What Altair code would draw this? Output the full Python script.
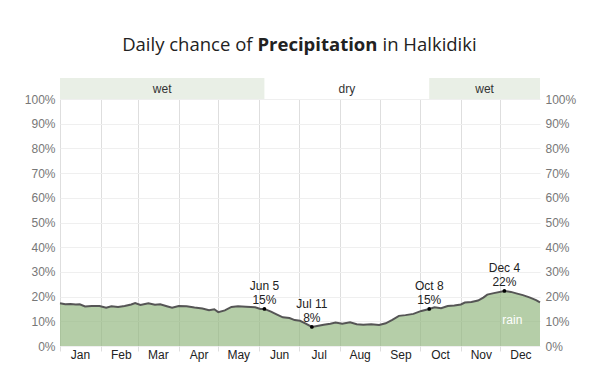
import altair as alt
import pandas as pd

# Daily chance of precipitation (%)
dates = [
    "2023-01-01", "2023-01-05", "2023-01-09", "2023-01-13", "2023-01-16", "2023-01-20",
    "2023-01-25", "2023-01-31", "2023-02-05", "2023-02-09", "2023-02-14", "2023-02-19",
    "2023-02-24", "2023-02-27", "2023-03-03", "2023-03-09", "2023-03-14", "2023-03-18",
    "2023-03-23", "2023-03-27", "2023-04-01", "2023-04-07", "2023-04-13", "2023-04-19",
    "2023-04-24", "2023-04-28", "2023-05-01", "2023-05-06", "2023-05-11", "2023-05-16",
    "2023-05-22", "2023-05-29", "2023-06-02", "2023-06-05", "2023-06-10", "2023-06-15",
    "2023-06-19", "2023-06-24", "2023-06-28", "2023-07-02", "2023-07-06", "2023-07-11",
    "2023-07-15", "2023-07-20", "2023-07-25", "2023-07-29", "2023-08-03", "2023-08-09",
    "2023-08-14", "2023-08-19", "2023-08-25", "2023-08-31", "2023-09-05", "2023-09-10",
    "2023-09-15", "2023-09-20", "2023-09-26", "2023-10-02", "2023-10-08", "2023-10-12",
    "2023-10-17", "2023-10-22", "2023-10-27", "2023-11-01", "2023-11-04", "2023-11-09",
    "2023-11-14", "2023-11-18", "2023-11-21", "2023-11-26", "2023-12-04", "2023-12-09",
    "2023-12-13", "2023-12-18", "2023-12-23", "2023-12-28", "2023-12-31",
]
values = [
    17.3, 16.9, 17.0, 16.8, 16.9, 16.0,
    16.2, 16.2, 15.5, 16.1, 15.8, 16.2,
    16.8, 17.4, 16.6, 17.3, 16.7, 16.9,
    16.1, 15.5, 16.2, 16.1, 15.6, 15.2,
    14.5, 14.9, 13.7, 14.4, 15.8, 16.1,
    15.9, 15.7, 15.0, 15.0, 13.9, 12.6,
    11.6, 11.3, 10.5, 10.2, 9.2, 7.7,
    8.1, 8.6, 9.0, 9.5, 9.0, 9.6,
    8.8, 8.6, 8.8, 8.5, 9.2, 10.6,
    12.2, 12.5, 13.0, 14.2, 15.0, 15.7,
    15.3, 16.2, 16.4, 16.8, 17.6, 17.8,
    18.4, 19.6, 20.8, 21.4, 22.3, 21.9,
    21.3, 20.6, 19.7, 18.6, 17.7,
]

ann_dates = ["2023-06-05", "2023-07-11", "2023-10-08", "2023-12-04"]
ann_values = [15.0, 7.7, 15.0, 22.3]
ann_labels = ["Jun 5\n15%", "Jul 11\n8%", "Oct 8\n15%", "Dec 4\n22%"]

band_start = ["2023-01-01", "2023-06-05", "2023-10-08"]
band_end = ["2023-06-05", "2023-10-08", "2023-12-31"]
band_label = ["wet", "dry", "wet"]

rain_date = ["2023-12-10"]
rain_value = [10.5]
rain_label = ["rain"]

df = pd.DataFrame({"date": dates, "p": [v / 100 for v in values]})
ann = pd.DataFrame({"date": ann_dates, "p": [v / 100 for v in ann_values], "label": ann_labels})
bands = pd.DataFrame({"start": band_start, "end": band_end, "label": band_label})
rain = pd.DataFrame({"date": rain_date, "p": [v / 100 for v in rain_value], "label": rain_label})

FONT = "Liberation Sans"
xscale = alt.Scale(type="utc", domain=[alt.DateTime(year=2023, month=1, date=1, utc=True),
                                       alt.DateTime(year=2023, month=12, date=31, utc=True)])
xaxis = alt.Axis(format="%b", tickCount=alt.TimeIntervalStep(interval="month", step=1),
                 labelOffset=20, labelFlush=False, labelAlign="center", grid=True,
                 gridColor="#dedede", domain=False, tickColor="#dedede", tickSize=5,
                 labelColor="#222", labelFontSize=12, labelFont=FONT, labelPadding=-2,
                 title=None)
yscale = alt.Scale(domain=[0, 1])
yvals = [i / 10 for i in range(11)]

def yaxis(orient, grid):
    return alt.Axis(format=".0%", values=yvals, orient=orient, grid=grid, gridColor="#efefef",
                    domain=False, ticks=False, labelColor="#777", labelFontSize=12,
                    labelFont=FONT, labelPadding=5, title=None)

X = alt.X("date:T", scale=xscale, axis=xaxis, title=None)

area = alt.Chart(df).mark_area(color="#8db37a", opacity=0.65).encode(
    x=X, y=alt.Y("p:Q", scale=yscale, axis=yaxis("left", True)))
line = alt.Chart(df).mark_line(color="#555555", strokeWidth=2).encode(
    x=X, y=alt.Y("p:Q", scale=yscale, axis=yaxis("right", False)))
pts = alt.Chart(ann).mark_point(filled=True, color="#000", size=14, opacity=1).encode(
    x=X, y=alt.Y("p:Q", scale=yscale, axis=None))
ann_text = alt.Chart(ann).mark_text(lineBreak="\n", baseline="bottom", dy=-16, fontSize=12,
                                    font=FONT, color="#222", lineHeight=14).encode(
    x=X, y=alt.Y("p:Q", scale=yscale, axis=None), text="label:N")
rain_text = alt.Chart(rain).mark_text(fontSize=12, font=FONT, color="white").encode(
    x=X, y=alt.Y("p:Q", scale=yscale, axis=None), text="label:N")

band_rect = alt.Chart(bands).transform_filter(alt.datum.label == "wet").mark_rect(
    color="#e9efe6").encode(
    x=alt.X("start:T", scale=xscale, axis=xaxis, title=None), x2="end:T",
    y=alt.value(-21), y2=alt.value(0))
band_text = alt.Chart(bands).transform_calculate(
    mid="(toDate(datum.start) + toDate(datum.end)) / 2").mark_text(
    fontSize=12, font=FONT, color="#333", baseline="middle").encode(
    x=alt.X("mid:T", scale=xscale, axis=xaxis, title=None), y=alt.value(-10), text="label:N")

TFONT = "Open Sans"
TSIZE = 18.5
title_df = pd.DataFrame({"a": [0]})
t1 = alt.Chart(title_df).mark_text(text="Daily chance of", font=TFONT, fontSize=TSIZE,
                                   align="right", baseline="middle", color="#222").encode(
    x=alt.value(192.5), y=alt.value(-54))
t2 = alt.Chart(title_df).mark_text(text="Precipitation", font=TFONT, fontSize=TSIZE, fontWeight="bold",
                                   align="left", baseline="middle", color="#222").encode(
    x=alt.value(197.5), y=alt.value(-54))
t3 = alt.Chart(title_df).mark_text(text="in Halkidiki", font=TFONT, fontSize=TSIZE,
                                   align="left", baseline="middle", color="#222").encode(
    x=alt.value(322.5), y=alt.value(-54))

chart = alt.layer(band_rect, band_text, area, line, pts, ann_text, rain_text, t1, t2, t3).resolve_scale(
    y="independent").properties(
    width=480, height=247,
    autosize=alt.AutoSizeParams(type="none"),
    padding={"left": 52, "top": 91, "right": 52, "bottom": 24},
).configure_view(stroke=None)

chart.save("out.html", embed_options={"renderer": "svg", "actions": False})
